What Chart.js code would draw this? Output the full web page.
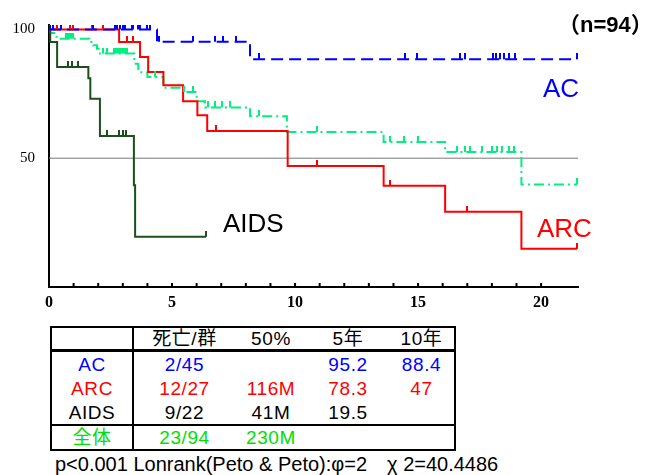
<!DOCTYPE html>
<html>
<head>
<meta charset="utf-8">
<script src="https://cdn.jsdelivr.net/npm/chart.js@4.4.0/dist/chart.umd.min.js"></script>
<style>
  body { margin: 0; background: #fff; width: 657px; height: 475px; position: relative; overflow: hidden;
         font-family: "Liberation Sans", "Noto Sans CJK JP", sans-serif; }
  #wrap { position: absolute; left: 0; top: 0; width: 657px; height: 320px; }
  .lbl { position: absolute; font-size: 26px; line-height: 1; white-space: nowrap; }
  #tbl { position: absolute; left: 50px; top: 326px; width: 404px; border-collapse: collapse;
         border: 2px solid #000; font-size: 19px; letter-spacing: 0.6px; table-layout: fixed; }
  #tbl td { padding: 0; text-align: center; line-height: 1; height: 24px; }
  #tbl tr.head td { height: 21px; border-bottom: 3px solid #000; }
  #tbl tr.total td { border-top: 2px solid #000; height: 23px; }
  #tbl td.first { border-right: 2px solid #000; }
  #note { position: absolute; left: 55px; top: 454px; font-size: 20px; line-height: 1; white-space: nowrap; }
</style>
</head>
<body>
<div id="wrap"><canvas id="myChart"></canvas></div>
<div class="lbl" style="left:558px; top:14px; font-size:22px; font-weight:bold;">（n=94）</div>
<div class="lbl" style="left:543px; top:75px; color:#0000ff;">AC</div>
<div class="lbl" style="left:223px; top:210px; color:#000;">AIDS</div>
<div class="lbl" style="left:537px; top:215px; color:#ff0000;">ARC</div>
<table id="tbl"></table>
<div id="note">p&lt;0.001 Lonrank(Peto &amp; Peto):φ=2　χ 2=40.4486</div>
<script>
// survival curves (years, %)
const acTime = [0, 4.39, 8.17, 21.46];
const acSurv = [100, 95.2, 88.4, 88.4];
const acCensor = [0.04, 0.15, 0.49, 1.8, 2.68, 2.76, 2.89, 3.0, 3.09, 3.36, 3.41, 3.62, 3.7, 3.97, 4.1,
  4.47, 5.84, 6.75, 7.09, 7.6, 8.55, 14.47, 14.96, 16.7, 16.9, 18.05, 18.17, 18.33, 18.5, 18.7, 18.94, 21.46];

const arcTime = [0, 2.85, 3.7, 4.03, 4.65, 5.45, 6.03, 6.43, 9.7, 13.6, 16.1, 19.2, 21.46];
const arcSurv = [100, 95.1, 89.3, 83.5, 78.3, 72.1, 66.7, 60.6, 47, 39.3, 29.2, 14.8, 14.8];
const arcCensor = [0.34, 0.85, 0.99, 1.74, 2.18, 3.16, 3.43, 6.77, 10.9, 13.86, 17.0, 21.46];

const aidsTime = [0, 0.05, 0.33, 1.6, 1.68, 2.07, 3.45, 3.5, 6.38];
const aidsSurv = [100, 95.1, 85.4, 81, 73.1, 58.6, 39.5, 19.5, 19.5];
const aidsCensor = [0.78, 0.95, 1.19, 2.35, 2.85, 3.0, 3.13, 6.38];

const allTime = [0, 0.05, 0.31, 1.64, 1.8, 1.95, 2.07, 3.47, 3.63, 4.0, 4.65, 5.45, 6.0, 6.34, 8.17, 9.67, 13.6, 16.1, 19.2, 21.46];
const allSurv = [100, 98.6, 96.4, 95.1, 93.8, 92.5, 90.6, 86.7, 83.4, 81.5, 77.3, 75.7, 72.1, 69.7, 66.3, 60.2, 56.3, 52.4, 39.8, 39.8];
const allCensor = [0.69, 0.76, 0.83, 0.9, 0.96, 2.2, 2.35, 2.64, 2.72, 2.8, 2.88, 2.96, 3.04, 3.11, 3.18, 4.3, 5.5, 5.85,
  6.47, 6.75, 7.03, 7.36, 8.54, 10.9, 13.86, 14.43, 15.0, 16.6, 16.9, 17.1, 17.6, 18.0, 18.2, 18.4, 18.7, 18.9, 21.46];

const refLine = 50;
const xTicks = [0, 5, 10, 15, 20];
const yTicks = [50, 100];

// table
const tableHead = ['', '死亡/群', '50%', '5年', '10年'];
const groups = ['AC', 'ARC', 'AIDS', '全体'];
const deaths = ['2/45', '12/27', '9/22', '23/94'];
const median = ['', '116M', '41M', '230M'];
const surv5 = ['95.2', '78.3', '19.5', ''];
const surv10 = ['88.4', '47', '', ''];
const rowColors = ['#0000ff', '#ff0000', '#000000', '#00e000'];

const BLUE = '#0000ff', RED = '#ff0000', DKGREEN = '#1c4f1c', GREEN = '#00f080';

function points(t, s) {
  return t.map((v, i) => ({ x: v, y: s[i] }));
}

function survAt(t, s, x) {
  let y = s[0];
  for (let i = 0; i < t.length; i++) if (t[i] <= x) y = s[i];
  return y;
}

function tickImage(color) {
  const c = document.createElement('canvas');
  c.width = 2; c.height = 12;
  const g = c.getContext('2d');
  g.fillStyle = color;
  g.fillRect(0, 0, 2, 6);
  return c;
}

function censorSet(t, s, cens, color) {
  return {
    data: cens.map(x => ({ x: x, y: survAt(t, s, x) })),
    showLine: false,
    pointStyle: tickImage(color),
    pointRadius: 3,
    borderColor: color,
    backgroundColor: color
  };
}

function curveSet(t, s, color, dash) {
  return {
    data: points(t, s),
    stepped: 'before',
    borderColor: color,
    borderWidth: 2,
    borderDash: dash,
    pointRadius: 0,
    fill: false
  };
}

const data = {
  datasets: [
    censorSet(acTime, acSurv, acCensor, BLUE),
    censorSet(arcTime, arcSurv, arcCensor, RED),
    censorSet(aidsTime, aidsSurv, aidsCensor, DKGREEN),
    censorSet(allTime, allSurv, allCensor, GREEN),
    curveSet(acTime, acSurv, BLUE, [12, 6]),
    curveSet(arcTime, arcSurv, RED, []),
    curveSet(aidsTime, aidsSurv, DKGREEN, []),
    curveSet(allTime, allSurv, GREEN, [10, 4, 2, 4]),
    {
      data: [{ x: 0, y: refLine }, { x: 21.5, y: refLine }],
      borderColor: '#777',
      borderWidth: 1,
      pointRadius: 0
    }
  ]
};

// small upward tick marks on the x axis
const innerTicks = {
  id: 'innerTicks',
  afterDraw(chart) {
    const { ctx, chartArea } = chart;
    const x = chart.scales.x;
    ctx.save();
    ctx.strokeStyle = '#000';
    ctx.lineWidth = 2;
    x.ticks.forEach(t => {
      if (!Number.isInteger(t.value) || t.value === 0) return;
      const px = x.getPixelForValue(t.value);
      ctx.beginPath();
      ctx.moveTo(px, chartArea.bottom);
      ctx.lineTo(px, chartArea.bottom - 4);
      ctx.stroke();
    });
    ctx.restore();
  }
};

const config = {
  type: 'line',
  data,
  options: {
    animation: false,
    responsive: true,
    maintainAspectRatio: false,
    layout: { padding: { top: 25, right: 79, left: 0, bottom: 0 } },
    plugins: { legend: { display: false }, tooltip: { enabled: false } },
    scales: {
      x: {
        type: 'linear',
        min: 0,
        max: 21.5,
        afterFit(scale) { scale.height = 33; },
        grid: { display: false, drawTicks: false },
        border: { display: true, color: '#000', width: 2 },
        ticks: {
          stepSize: 1,
          autoSkip: false,
          maxRotation: 0,
          padding: 6,
          color: '#000',
          font: { family: 'Liberation Serif', size: 16, weight: 'bold' },
          callback: v => xTicks.includes(v) ? String(v) : ''
        }
      },
      y: {
        min: 0,
        max: 101.7,
        afterFit(scale) { scale.width = 49; },
        afterBuildTicks(axis) { axis.ticks = yTicks.map(v => ({ value: v })); },
        grid: { display: false, drawTicks: false },
        border: { display: true, color: '#000', width: 2 },
        ticks: {
          padding: 14,
          color: '#000',
          font: { family: 'Liberation Serif', size: 15 }
        }
      }
    }
  },
  plugins: [innerTicks]
};

const myChart = new Chart(document.getElementById('myChart'), config);

// build the table
const tbl = document.getElementById('tbl');
const widths = [82, 102, 72, 82, 66];
const cg = document.createElement('colgroup');
widths.forEach(w => { const c = document.createElement('col'); c.style.width = w + 'px'; cg.appendChild(c); });
tbl.appendChild(cg);
const head = tbl.insertRow();
head.className = 'head';
tableHead.forEach((h, i) => {
  const td = head.insertCell();
  td.textContent = h;
  if (i === 0) td.className = 'first';
});
groups.forEach((g, r) => {
  const tr = tbl.insertRow();
  if (r === 3) tr.className = 'total';
  [g, deaths[r], median[r], surv5[r], surv10[r]].forEach((v, i) => {
    const td = tr.insertCell();
    td.textContent = v;
    td.style.color = rowColors[r];
    if (i === 0) td.className = 'first';
  });
});
</script>
</body>
</html>
